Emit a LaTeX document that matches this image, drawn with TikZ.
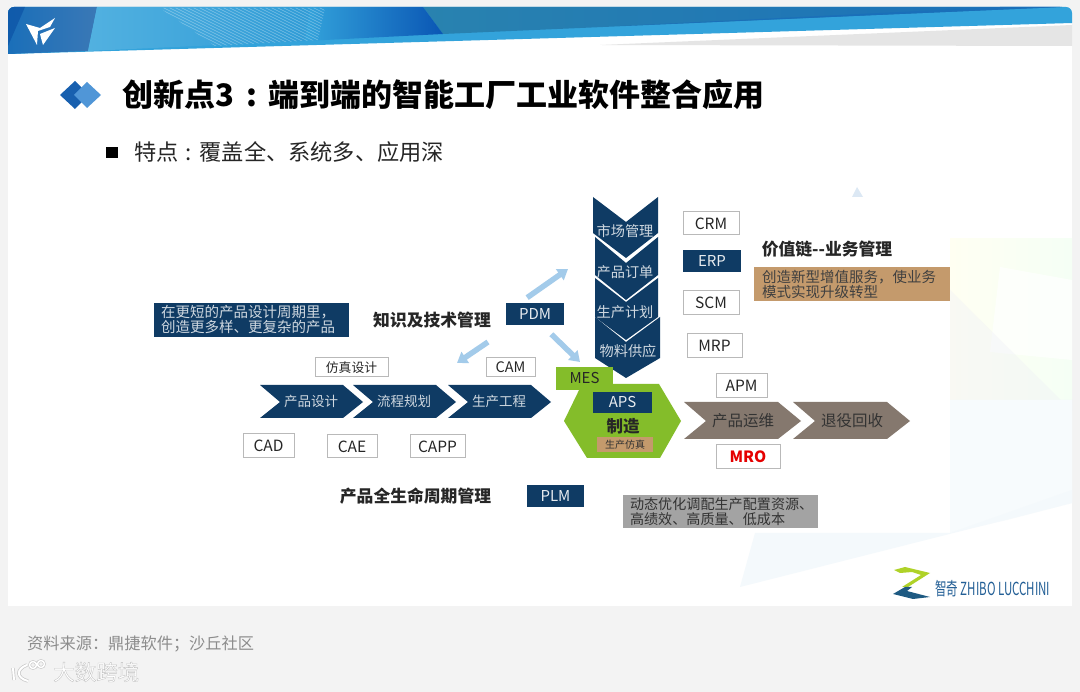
\documentclass[tikz,border=0pt]{standalone}
\usepackage{fontspec}
\setmainfont{Noto Sans CJK SC}
\newfontfamily\narrowfont[FakeStretch=0.64]{Noto Sans CJK SC}
\usetikzlibrary{arrows.meta,calc}
\definecolor{navy}{HTML}{0F3B64}
\definecolor{leaf}{HTML}{84BD2A}
\definecolor{umber}{HTML}{85786E}
\definecolor{tan}{HTML}{C49A6C}
\definecolor{ash}{HTML}{A3A3A3}
\definecolor{sky}{HTML}{A3CBEA}
\definecolor{page}{HTML}{F3F3F3}
\definecolor{bandlight}{HTML}{33A3DB}
\definecolor{banddark}{HTML}{1A6FB9}
\definecolor{bandmid}{HTML}{0A56B4}
\definecolor{bandleft}{HTML}{3A78B6}
\tikzset{
    softbox/.style={draw=gray!55, line width=1pt, fill=white, inner sep=0pt, font=\fontsize{15.5}{15.5}\selectfont, text=black!85},
    navybox/.style={fill=navy, inner sep=0pt, text=white!90!navy, font=\fontsize{15}{15}\selectfont},
    heading/.style={font=\fontsize{16.8}{16.8}\selectfont\bfseries, text=black!85},
    flowtext/.style={font=\fontsize{14.2}{14.2}\selectfont, text=white!80!navy},
    notetext/.style={align=left, inner sep=0pt, font=\fontsize{14.5}{15}\selectfont},
    skyarrow/.style={draw=sky, line width=5.5pt, -{Triangle[length=10pt,width=13pt]}},
}
\begin{document}
\begin{tikzpicture}[x=1pt, y=-1pt]
    \useasboundingbox (0,0) rectangle (1080,692);
    \fill[page] (0,0) rectangle (1080,692);
    \fill[white] (8,16) rectangle (1072,606);
    % Pale background shapes
    \fill[color={rgb,255:red,220;green,232;blue,244}] (857,187) -- (863,197) -- (852,197) -- cycle;
    \shade[left color=yellow!5, right color=cyan!5!green!4] (950,239) rectangle (1072,400);
    \fill[white, opacity=.7] (1000,267) -- (1072,280) -- (1072,360) -- (990,352) -- cycle;
    \fill[blue!30!gray!10, opacity=.35] (950,290) -- (1072,411) -- (1072,400) -- (950,400) -- cycle;
    \fill[color={rgb,255:red,247;green,251;blue,253}] (950,400) -- (1072,400) -- (1072,503) -- (1007,520) -- (950,533) -- cycle;
    \fill[color={rgb,255:red,244;green,249;blue,252}] (740,587) -- (755,533) -- (950,533) -- (1072,490) -- (1072,503) -- cycle;
    % Header band
    \fill[black!10] (600,45) -- (1072,25) -- (1072,46) -- cycle;
    \fill[bandlight, rounded corners=0pt] (8,54) -- (8,30) [rounded corners=6pt] -- (8,7) -- (1072,7) [sharp corners] -- (1072,23) -- cycle;
    \shade[left color=bandlight!80!black, right color=banddark] (423,7) -- (1060,7) -- (443,34) -- cycle;
    \shade[left color=bandlight, right color=bandmid] (310,7) -- (423,7) -- (443,34) -- (305,41) -- cycle;
    \fill[banddark] (1000,7) -- (1062,7) -- (620,26) -- cycle;
    \shade[left color=banddark, right color=bandleft] (8,54) -- (8,30) [rounded corners=6pt] -- (8,7) [sharp corners] -- (97,7) -- (88,51) -- cycle;
    \fill[bandmid!90!black, opacity=.6] (8,46) -- (8,30) [rounded corners=6pt] -- (8,7) [sharp corners] -- (25,7) -- cycle;
    \shade[left color=bandlight!85!white, right color=bandlight!85!banddark] (97,7) -- (310,7) -- (305,41) -- (88,51) -- cycle;
    % Hatching
    \begin{scope}
        \clip (160,8) -- (325,8) -- (318,40) -- (215,46) -- cycle;
        \foreach \i in {0,...,38}
            \draw[white, opacity=.35, line width=0.5pt] ({100+\i*6},0) -- ({200+\i*6},50);
    \end{scope}
    % Logo
    \fill[white] (26,24) -- (40,28) -- (55,18) -- (50,27) -- (38,31) -- (37,45) -- cycle;
    \fill[white] (40,34) -- (55,28) -- (43,45) -- (41,38) -- cycle;
    % Title
    \fill[color={rgb,255:red,24;green,96;blue,175}] (60,95) -- (75,81) -- (89,95) -- (75,109) -- cycle;
    \fill[color={rgb,255:red,80;green,150;blue,215}] (74,95) -- (87,82) -- (101,95) -- (87,108) -- cycle;
    \node[anchor=west, inner sep=0pt, font=\fontsize{31}{31}\selectfont\bfseries] (title) at (122,95) {创新点3\hspace{12pt}:\hspace{12pt}端到端的智能工厂工业软件整合应用};
    \fill[black] (106,147) rectangle (118,158);
    \node[anchor=west, inner sep=0pt, font=\fontsize{22.2}{22.2}\selectfont, text=black!85] (subtitle) at (134,152) {特点\hspace{7pt}:\hspace{8pt}覆盖全、系统多、应用深};
    % Design chevrons
    \foreach \x/\nm/\txt in {260/design/产品设计, 353/process/流程规划, 448/engineering/生产工程}{
        \fill[navy] (\x,385) -- ({\x+83},385) -- ({\x+103},402) -- ({\x+83},418) -- (\x,418) -- ({\x+20},402) -- cycle;
        \node[flowtext, font=\fontsize{13.5}{13.5}\selectfont] (\nm) at ({\x+51},401) {\txt};
    }
    % Value chain chevrons
    \fill[navy] (593,197) -- (626,222) -- (658,197) -- (658,233) -- (626,258) -- (593,233) -- cycle;
    \fill[navy] (595,237) -- (626,263) -- (658,237) -- (658,275) -- (626,300) -- (595,275) -- cycle;
    \fill[navy] (595,278) -- (626,302) -- (658,278) -- (658,317) -- (626,340) -- (595,317) -- cycle;
    \fill[navy] (595,317) -- (626,342) -- (660,317) -- (660,358) -- (626,378) -- (595,358) -- cycle;
    \node[flowtext] (market) at (625,231) {市场管理};
    \node[flowtext] (order) at (625,272) {产品订单};
    \node[flowtext] (plan) at (625,312) {生产计划};
    \node[flowtext] (supply) at (628,351) {物料供应};
    % Manufacturing
    \fill[leaf] (564,421) -- (582,384) -- (659,384) -- (681,421) -- (660,458) -- (587,458) -- cycle;
    \node[fill=leaf, minimum width=57pt, minimum height=23pt, inner sep=0pt, font=\fontsize{15}{15}\selectfont, text=black!85] (mes) at (584.5,378.5) {MES};
    \node[navybox, minimum width=59pt, minimum height=21pt] (aps) at (622.5,402.5) {APS};
    \node[font=\fontsize{16.5}{16.5}\selectfont\bfseries, text=black!85] (make) at (623,426) {制造};
    \node[fill=tan, minimum width=56pt, minimum height=15pt, inner sep=0pt, font=\fontsize{10}{10}\selectfont, text=black!80] (sim) at (625,444.5) {生产仿真};
    % After sales chevrons
    \foreach \x/\nm/\txt in {684/operate/产品运维, 793/recycle/退役回收}{
        \fill[umber] (\x,402) -- ({\x+94},402) -- ({\x+117},421) -- ({\x+94},439) -- (\x,439) -- ({\x+22},421) -- cycle;
        \node[font=\fontsize{15.5}{15.5}\selectfont, text=black!80] (\nm) at ({\x+59},421) {\txt};
    }
    % Software boxes
    \node[softbox, minimum width=51pt, minimum height=24pt] (cad) at (268.5,446) {CAD};
    \node[softbox, minimum width=50pt, minimum height=23pt] (cae) at (352,446.5) {CAE};
    \node[softbox, minimum width=55pt, minimum height=23pt] (capp) at (437.5,446.5) {CAPP};
    \node[softbox, minimum width=73pt, minimum height=19pt, font=\fontsize{12.8}{12.8}\selectfont] (simdesign) at (351.5,367.5) {仿真设计};
    \node[softbox, minimum width=49pt, minimum height=19pt, font=\fontsize{14.5}{14.5}\selectfont] (cam) at (510.5,367.5) {CAM};
    \node[softbox, minimum width=56pt, minimum height=23pt] (crm) at (711,223.5) {CRM};
    \node[navybox, minimum width=58pt, minimum height=22pt] (erp) at (712,261) {ERP};
    \node[softbox, minimum width=56pt, minimum height=24pt] (scm) at (711,303) {SCM};
    \node[softbox, minimum width=55pt, minimum height=24pt] (mrp) at (714.5,346) {MRP};
    \node[softbox, minimum width=51pt, minimum height=24pt] (apm) at (741.5,386) {APM};
    \node[softbox, minimum width=64pt, minimum height=24pt, text=red!90!black, font=\fontsize{15.5}{15.5}\selectfont\bfseries] (mro) at (748,457) {MRO};
    \node[navybox, minimum width=58pt, minimum height=22pt] (pdm) at (535,314) {PDM};
    \node[navybox, minimum width=57pt, minimum height=22pt] (plm) at (555.5,496) {PLM};
    % Notes
    \node[fill=navy, text=white!80!navy, notetext, minimum width=195pt, minimum height=34pt, text width=181pt] (shortnote) at (251.5,320) {在更短的产品设计周期里，\\创造更多样、更复杂的产品};
    \node[fill=tan, text=black!75, notetext, minimum width=196pt, minimum height=34pt, text width=180pt] (servicenote) at (852,284) {创造新型增值服务，使业务\\模式实现升级转型};
    \node[fill=ash, text=black!80, notetext, font=\fontsize{14.1}{15}\selectfont, minimum width=195pt, minimum height=33pt, text width=181pt] (costnote) at (720.5,511.5) {动态优化调配生产配置资源、\\高绩效、高质量、低成本};
    % Labels
    \node[heading] (knowledge) at (432,320) {知识及技术管理};
    \node[heading] (lifecycle) at (415.5,496) {产品全生命周期管理};
    \node[heading] (valuechain) at (827,249) {价值链-{}-业务管理};
    % Arrows
    \coordinate (upend) at (568,269);
    \coordinate (leftend) at (457,363);
    \coordinate (mesend) at (580,362);
    \draw[skyarrow, shorten <=9pt] (pdm.north west) ++(14,0) -- (upend);
    \draw[skyarrow, shorten <=30pt] (pdm.south west) ++(7,0) -- (leftend);
    \draw[skyarrow, shorten <=13pt] (pdm.south) ++(7,0) -- (mesend);
    % Footer logo
    \fill[color={rgb,255:red,175;green,210;blue,40}] (894,570) -- (905,567) -- (930,573) -- (908,587) -- (902,587) -- (921,575) -- (912,572) -- (900,573) -- cycle;
    \fill[color={rgb,255:red,30;green,90;blue,130}] (893,594) -- (905,587) -- (912,587) -- (907,591) -- (930,597) -- (913,599) -- cycle;
    \node[anchor=west, inner sep=0pt, font=\narrowfont\fontsize{18}{18}\selectfont, text={rgb,255:red,35;green,95;blue,150}] (zhibo) at (935,589) {智奇 ZHIBO LUCCHINI};
    % Footer
    \node[anchor=west, inner sep=0pt, font=\fontsize{16.2}{16.2}\selectfont, text=black!45] (source) at (27,644) {资料来源：鼎捷软件；沙丘社区};
    \draw[draw=black!22, double=white, double distance=2pt, line width=.7pt] (13,668) -- (14,680);
    \draw[draw=black!22, double=white, double distance=2pt, line width=.7pt] (27,665) .. controls (16,669) and (16,678) .. (28,681);
    \draw[draw=black!22, double=white, double distance=1.5pt, line width=.6pt] (33,665) circle (3.5) (41,664) circle (3.5);
    \node[anchor=west, inner sep=0pt, font=\fontsize{21.5}{21.5}\selectfont, text=white] (mark) at (53,672) {\special{pdf:code q 2 Tr 0.76 0.76 0.76 RG 0.35 w}大数跨境\special{pdf:code Q}};
\end{tikzpicture}
\end{document}
